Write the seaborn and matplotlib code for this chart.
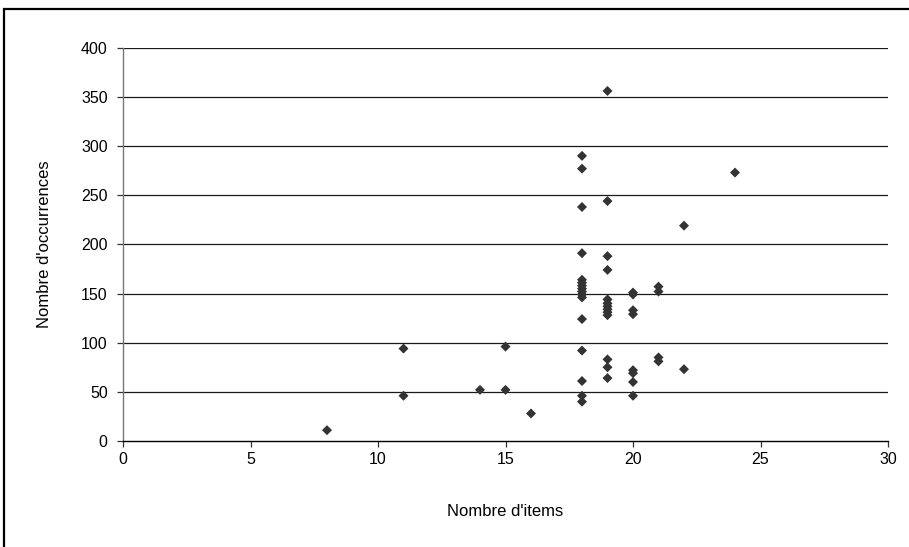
import matplotlib
matplotlib.use("Agg")
import matplotlib.pyplot as plt
import matplotlib.patches as mpatches
import pandas as pd
import seaborn as sns

# Number of items per entry and how many occurrences it has
items = [8, 11, 11, 14, 15, 15, 16,
         18, 18, 18, 18, 18, 18, 18, 18, 18, 18, 18, 18, 18, 18, 18, 18,
         19, 19, 19, 19, 19, 19, 19, 19, 19, 19, 19, 19, 19,
         20, 20, 20, 20, 20, 20, 20, 20,
         21, 21, 21, 21,
         22, 22,
         24]
occurrences = [11, 94, 46, 52, 96, 52, 28,
               290, 277, 238, 191, 164, 161, 158, 155, 152, 149, 146, 124, 92, 61, 46, 40,
               356, 244, 188, 174, 144, 140, 137, 134, 131, 128, 83, 75, 64,
               151, 149, 133, 129, 72, 69, 60, 46,
               157, 152, 85, 81,
               219, 73,
               273]

x_ticks = [0, 5, 10, 15, 20, 25, 30]
y_ticks = [0, 50, 100, 150, 200, 250, 300, 350, 400]

df = pd.DataFrame({"Nombre d'items": items, "Nombre d'occurrences": occurrences})

sns.set_theme(style="white")
plt.rcParams["font.family"] = ["Liberation Sans", "DejaVu Sans"]

fig = plt.figure(figsize=(9.09, 5.47), dpi=100)
ax = fig.add_axes([123 / 909, 1 - 441 / 547, (888 - 123) / 909, (441 - 47.7) / 547])

sns.scatterplot(data=df, x="Nombre d'items", y="Nombre d'occurrences", ax=ax,
                marker="D", s=26, color="#333333", edgecolor="none", zorder=3)

ax.set_xlim(0, 30)
ax.set_ylim(0, 400)
ax.set_xticks(x_ticks)
ax.set_yticks(y_ticks)
ax.set_xticklabels([str(v) for v in x_ticks], fontsize=11.5, color="black")
ax.set_yticklabels([str(v) for v in y_ticks], fontsize=11.5, color="black")

for v in y_ticks[1:]:
    ax.axhline(v, color="#1a1a1a", lw=0.9, zorder=1)

for side in ["top", "right"]:
    ax.spines[side].set_visible(False)
ax.spines["left"].set_color("#777777")
ax.spines["left"].set_linewidth(1.0)
ax.spines["bottom"].set_color("black")
ax.spines["bottom"].set_linewidth(1.0)
ax.tick_params(axis="both", direction="out", length=4, width=0.9,
               left=True, bottom=True, colors="#333333", labelcolor="black")
ax.tick_params(axis="x", pad=4)
ax.tick_params(axis="y", pad=7)

ax.set_xlabel("Nombre d'items", fontsize=12, color="black")
ax.set_ylabel("Nombre d'occurrences", fontsize=12, color="black")
ax.xaxis.set_label_coords(0.5, -(512 - 441) / (441 - 47.7), transform=ax.transAxes)
ax.xaxis.label.set_va("center")
ax.yaxis.set_label_coords(-(123 - 45) / (888 - 123), 0.5, transform=ax.transAxes)
ax.yaxis.label.set_va("center")

# Outer frame around the chart
frame = mpatches.Rectangle((4 / 909, -0.2), 1.2, (1 - 9 / 547) + 0.2,
                           transform=fig.transFigure, fill=False,
                           edgecolor="black", linewidth=1.6)
fig.patches.append(frame)

fig.savefig("out.png", dpi=100)
